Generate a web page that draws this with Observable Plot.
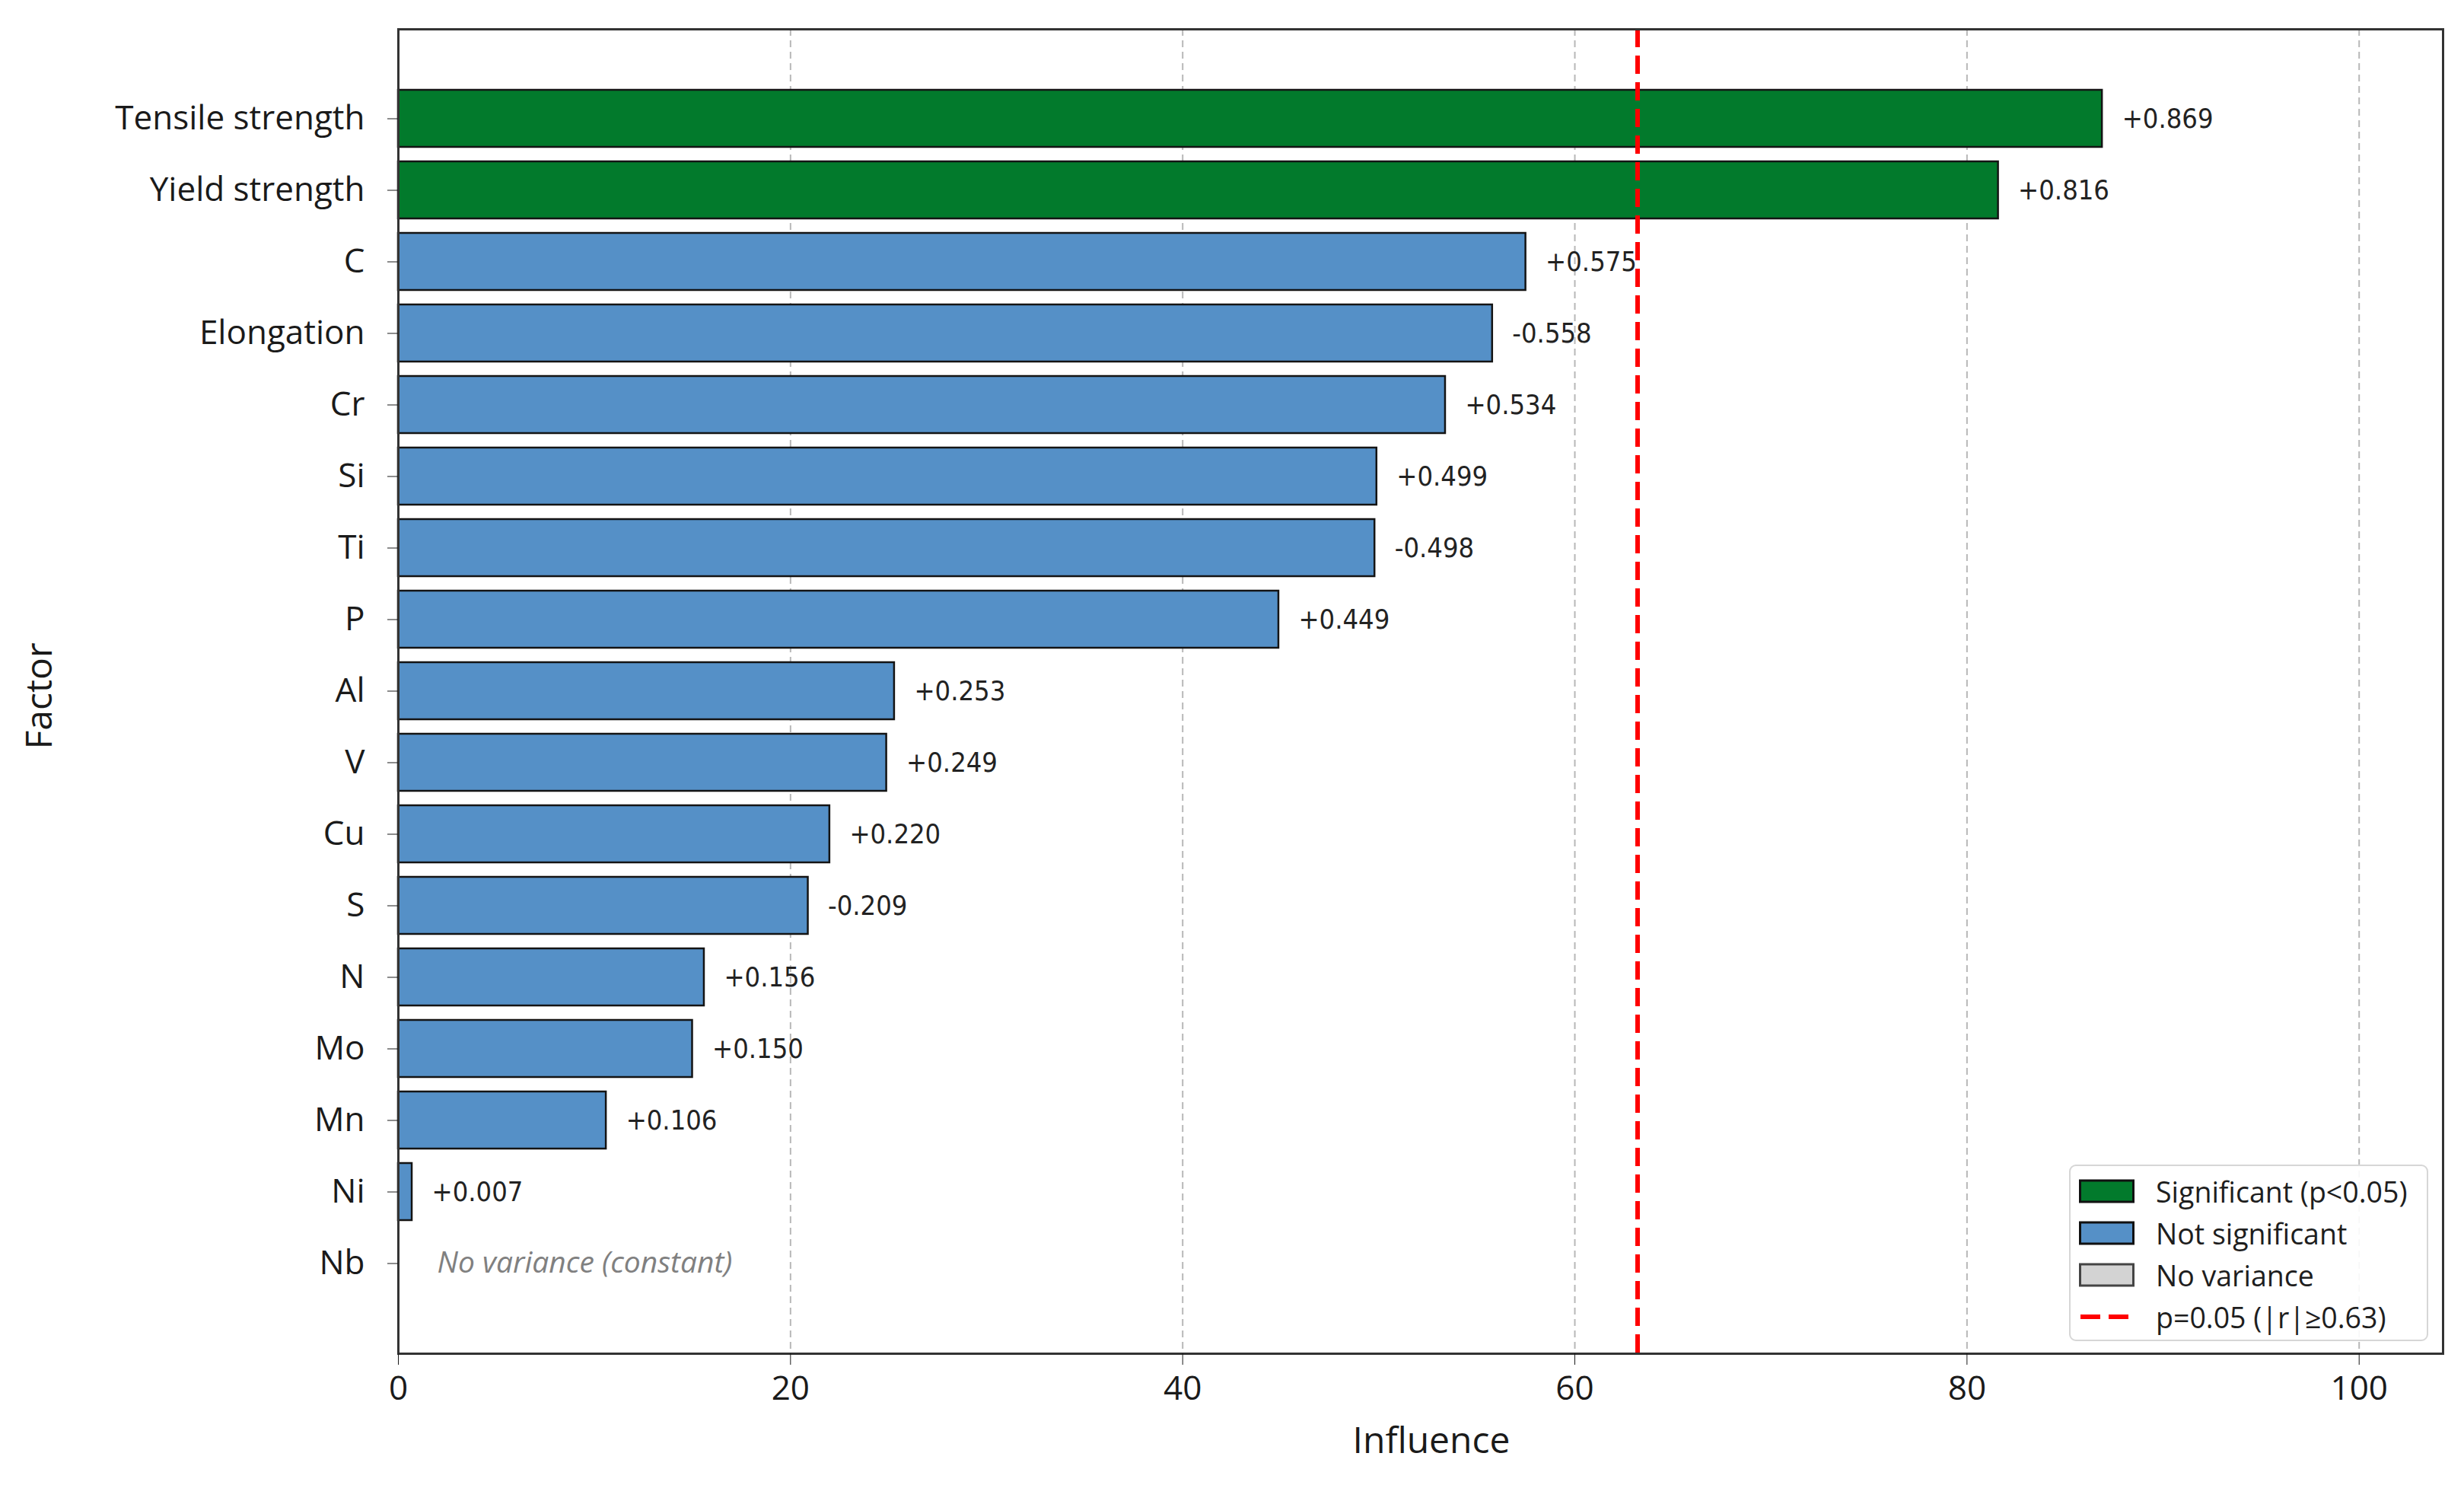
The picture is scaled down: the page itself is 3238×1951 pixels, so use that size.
<!DOCTYPE html>
<html>
<head>
<meta charset="utf-8">
<script src="https://cdn.jsdelivr.net/npm/d3@7"></script>
<script src="https://cdn.jsdelivr.net/npm/@observablehq/plot@0.6"></script>
<style>
  body { margin: 0; background: #fff; }
  #wrap { position: relative; width: 3238px; height: 1951px; background: #fff; }
  #legend {
    position: absolute; left: 2719px; top: 1530px; width: 472px; height: 232px;
    box-sizing: border-box; border: 2.5px solid #d6d6d6; border-radius: 9px;
    background: rgba(255,255,255,0.9);
    font-family: "Open Sans", sans-serif; font-size: 37.5px; color: #1e1e1e;
  }
  .item { position: absolute; left: 11px; height: 44px; display: flex; align-items: center; white-space: nowrap; }
  .item svg { margin-right: 28px; flex: none; }
</style>
</head>
<body>
<div id="wrap"><div id="chart"></div><div id="legend"></div></div>
<script>
// ---- data ----
const factors = ["Tensile strength", "Yield strength", "C", "Elongation", "Cr", "Si", "Ti", "P",
                 "Al", "V", "Cu", "S", "N", "Mo", "Mn", "Ni", "Nb"];
const influence = [86.9, 81.6, 57.5, 55.8, 53.4, 49.9, 49.8, 44.9,
                   25.3, 24.9, 22.0, 20.9, 15.6, 15.0, 10.6, 0.7, 0];
const rValues = [0.869, 0.816, 0.575, -0.558, 0.534, 0.499, -0.498, 0.449,
                 0.253, 0.249, 0.220, -0.209, 0.156, 0.150, 0.106, 0.007, null];
const status = ["Significant (p<0.05)", "Significant (p<0.05)",
                "Not significant", "Not significant", "Not significant", "Not significant",
                "Not significant", "Not significant", "Not significant", "Not significant",
                "Not significant", "Not significant", "Not significant", "Not significant",
                "Not significant", "Not significant", "No variance"];
const statusDomain = ["Significant (p<0.05)", "Not significant", "No variance"];
const statusColors = ["#027a2c", "#5590c7", "#d3d3d3"];
const statusEdges = ["#111111", "#111111", "#444444"];
const xTicks = [0, 20, 40, 60, 80, 100];
const xMax = 104.28;
const threshold = 63.2;
const thresholdLabel = "p=0.05 (|r|≥0.63)";
const noVarianceText = "No variance (constant)";
const xLabel = "Influence";
const yLabel = "Factor";

const data = factors.map((f, i) => ({
  factor: f,
  influence: influence[i],
  r: rValues[i],
  label: rValues[i] == null ? "" : (rValues[i] >= 0 ? "+" : "-") + Math.abs(rValues[i]).toFixed(3),
  status: status[i]
}));

const chart = Plot.plot({
  width: 3238,
  height: 1951,
  marginLeft: 523,
  marginRight: 28,
  marginTop: 38,
  marginBottom: 173,
  style: { fontFamily: "'Open Sans', sans-serif", fontSize: "44px", color: "#1a1a1a", background: "#fff" },
  x: { domain: [0, xMax] },
  y: { domain: factors, paddingInner: 0.2, paddingOuter: 0.845 },
  color: { domain: statusDomain, range: statusColors },
  marks: [
    Plot.gridX(xTicks.filter(t => t > 0), { stroke: "#b8b8b8", strokeOpacity: 1, strokeWidth: 2, strokeDasharray: "9,6" }),
    Plot.barX(data.filter(d => d.influence > 0), {
      x: "influence", y: "factor", fill: "status", stroke: "#141414", strokeWidth: 2.5
    }),
    Plot.ruleX([threshold], { stroke: "#ff0000", strokeWidth: 6, strokeDasharray: "24,11" }),
    Plot.text(data.filter(d => d.r != null), {
      x: "influence", y: "factor", text: "label", textAnchor: "start", dx: 26,
      fontFamily: "'DejaVu Sans Condensed', 'DejaVu Sans', sans-serif", fontSize: 36, fill: "#222"
    }),
    Plot.text(data.filter(d => d.r == null), {
      x: "influence", y: "factor", text: () => noVarianceText, textAnchor: "start", dx: 51,
      fontStyle: "italic", fontSize: 39, fill: "#808080"
    }),
    Plot.frame({ stroke: "#333", strokeWidth: 3 }),
    Plot.axisX({ ticks: xTicks, tickSize: 15, tickPadding: 14, fontSize: 44, label: null }),
    Plot.axisY({ tickSize: 14, tickPadding: 30, fontSize: 44, label: null }),
    Plot.text([xLabel], { text: d => d, frameAnchor: "bottom", dx: 14, dy: 115, lineAnchor: "middle", textAnchor: "middle", fontSize: 48, fill: "#1a1a1a" }),
    Plot.text([yLabel], { text: d => d, frameAnchor: "left", dx: -471, dy: 6, rotate: -90, lineAnchor: "middle", textAnchor: "middle", fontSize: 48, fill: "#1a1a1a" })
  ]
});
document.getElementById("chart").appendChild(chart);

// ---- legend (HTML overlay inside the axes, lower right) ----
const legend = document.getElementById("legend");
const legendEntries = statusDomain.map((s, i) => ({ label: s, kind: "patch", fill: statusColors[i], edge: statusEdges[i] }))
  .concat([{ label: thresholdLabel, kind: "line" }]);
legendEntries.forEach((e, i) => {
  const item = document.createElement("div");
  item.className = "item";
  item.style.top = (11 + i * 55) + "px";
  let sw;
  if (e.kind === "patch") {
    sw = `<svg width="73" height="32"><rect x="1.5" y="2" width="70" height="28" fill="${e.fill}" stroke="${e.edge}" stroke-width="3"/></svg>`;
  } else {
    sw = `<svg width="73" height="32"><line x1="2" y1="16" x2="71" y2="16" stroke="#ff0000" stroke-width="6" stroke-dasharray="26,11"/></svg>`;
  }
  item.innerHTML = sw + `<span>${e.label}</span>`;
  legend.appendChild(item);
});
</script>
</body>
</html>
